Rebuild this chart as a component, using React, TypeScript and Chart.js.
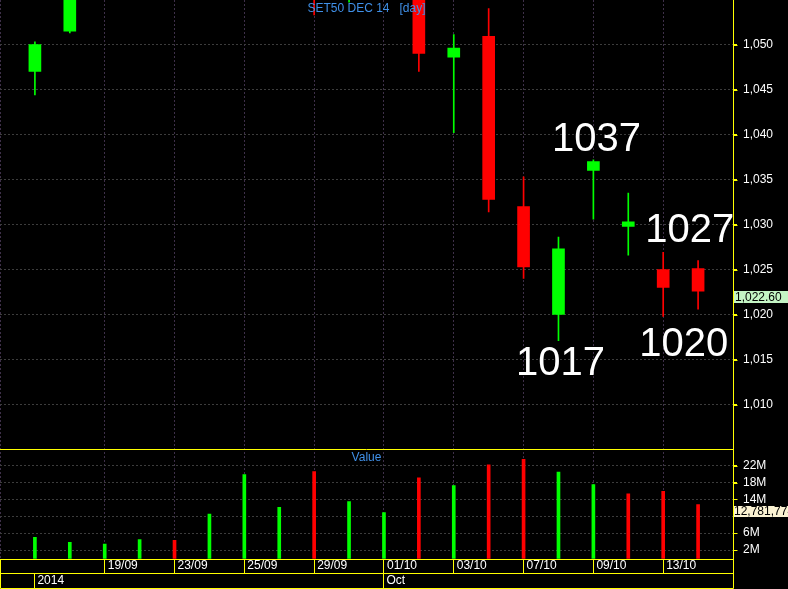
import React, { useEffect, useRef } from 'react';
import { Chart, registerables } from 'chart.js';

Chart.register(...registerables);

// ---- data -------------------------------------------------------------
const DATES = ['17/09', '18/09', '19/09', '22/09', '23/09', '24/09', '25/09', '26/09', '29/09', '30/09',
  '01/10', '02/10', '03/10', '06/10', '07/10', '08/10', '09/10', '10/10', '13/10', '14/10'];
const OPEN = [1047.0, 1051.5, 1057.5, 1062.0, 1064.0, 1061.5, 1067.0, 1071.0, 1073.0, 1059.5,
  1062.0, 1063.5, 1048.6, 1050.9, 1032.0, 1020.0, 1036.0, 1029.8, 1025.0, 1025.1];
const HIGH = [1050.3, 1058.5, 1063.5, 1066.0, 1065.0, 1068.0, 1074.5, 1075.0, 1074.0, 1064.0,
  1065.5, 1064.5, 1051.1, 1054.0, 1035.3, 1028.6, 1037.2, 1033.5, 1026.9, 1026.0];
const LOW = [1044.4, 1051.3, 1056.0, 1060.5, 1059.5, 1060.0, 1065.5, 1069.0, 1053.3, 1054.7,
  1058.5, 1047.0, 1040.2, 1031.4, 1024.0, 1017.1, 1030.6, 1026.6, 1019.8, 1020.6];
const CLOSE = [1050.0, 1057.0, 1062.0, 1064.5, 1061.0, 1066.5, 1072.0, 1073.5, 1059.0, 1062.5,
  1064.0, 1049.0, 1049.6, 1032.8, 1025.3, 1027.3, 1037.0, 1030.3, 1023.0, 1022.6];
const VOLUME = [5.0e6, 3.8e6, 3.4e6, 4.5e6, 4.3e6, 10.5e6, 19.9e6, 12.1e6, 20.6e6, 13.5e6,
  10.9e6, 19.1e6, 17.3e6, 22.2e6, 23.5e6, 20.5e6, 17.5e6, 15.3e6, 15.9e6, 12781774];

const PRICE_TICKS = [1010, 1015, 1020, 1025, 1030, 1035, 1040, 1045, 1050];
const VOLUME_TICKS = [2e6, 6e6, 10e6, 14e6, 18e6, 22e6];
const DATE_TICKS = [2, 4, 6, 8, 10, 12, 14, 16, 18];
const PERIOD_TICKS = [0, 10];
const PERIOD_LABELS = ['2014', 'Oct'];

const TITLE = 'SET50 DEC 14   [day]';
const VOLUME_TITLE = 'Value';

// annotation text with its anchor (candle index, price) = centre / baseline of text
const MARK_TEXT = ['1037', '1027', '1017', '1020'];
const MARK_INDEX = [16.09, 18.76, 15.06, 18.59];
const MARK_PRICE = [1038.17, 1028.09, 1013.28, 1015.42];

// ---- style ------------------------------------------------------------
const UP = '#00ff00';
const DOWN = '#ff0000';
const YELLOW = '#ffff00';
const HGRID = '#3c3c3c';
const VGRID = '#3e3049';
const TEXT = '#ffffff';
const BLUE = '#4090e8';
const FAMILY = "'Liberation Sans', Arial, sans-serif";

const candleColors = OPEN.map((o, i) => (CLOSE[i] >= o ? UP : DOWN));
const volumeColors = CLOSE.map((c, i) =>
  i === 0 ? candleColors[0] : c >= CLOSE[i - 1] ? UP : DOWN);

const overlayPlugin = {
  id: 'overlay',
  afterDraw(chart: any) {
    const { ctx, chartArea: a, scales } = chart;
    const x = scales.x;
    const y = scales.y;
    const yv = scales.yv;
    const H = chart.height;
    const axisX = Math.floor(a.right) + 0.5;
    ctx.save();
    ctx.setLineDash([]);
    ctx.strokeStyle = YELLOW;
    ctx.lineWidth = 1;
    // separator between panes
    const sep = Math.floor(y.bottom) + 0.5;
    ctx.beginPath();
    ctx.moveTo(a.left, sep);
    ctx.lineTo(a.right, sep);
    ctx.stroke();
    // right axis line + outline of date rows
    ctx.beginPath();
    ctx.moveTo(axisX, 0);
    ctx.lineTo(axisX, H - 0.5);
    ctx.lineTo(0.5, H - 0.5);
    ctx.lineTo(0.5, a.bottom);
    ctx.stroke();
    // axis tick marks
    ctx.beginPath();
    [y, yv].forEach((s: any) => {
      s.ticks.forEach((t: any) => {
        const p = Math.round(s.getPixelForValue(t.value)) + 0.5;
        ctx.moveTo(axisX, p);
        ctx.lineTo(axisX + 4, p);
      });
    });
    ctx.stroke();

    // titles
    const cx = (a.left + a.right) / 2;
    ctx.font = `12px ${FAMILY}`;
    ctx.fillStyle = BLUE;
    ctx.textAlign = 'center';
    ctx.textBaseline = 'alphabetic';
    ctx.fillText(TITLE, cx, 12);
    ctx.fillText(VOLUME_TITLE, cx, Math.floor(y.bottom) + 11.5);

    // big annotations
    ctx.font = `40px ${FAMILY}`;
    ctx.fillStyle = '#ffffff';
    MARK_TEXT.forEach((t, i) => {
      ctx.fillText(t, x.getPixelForValue(MARK_INDEX[i]), y.getPixelForValue(MARK_PRICE[i]));
    });

    // last price box
    ctx.font = `12px ${FAMILY}`;
    ctx.textAlign = 'left';
    ctx.textBaseline = 'middle';
    const last = CLOSE.length - 1;
    const py = Math.round(y.getPixelForValue(CLOSE[last]));
    ctx.fillStyle = '#c4f4c4';
    ctx.fillRect(a.right + 1, py, chart.width - a.right, 12);
    ctx.fillStyle = '#000000';
    ctx.fillText(CLOSE[last].toLocaleString('en-US', { minimumFractionDigits: 2, maximumFractionDigits: 2 }), a.right + 2, py + 6.5);

    // last volume box
    const pv = Math.round(yv.getPixelForValue(VOLUME[last])) + 1;
    ctx.fillStyle = '#fbf2d2';
    ctx.fillRect(a.right + 1, pv, chart.width - a.right, 11);
    ctx.fillStyle = '#000000';
    ctx.fillText(VOLUME[last].toLocaleString('en-US'), a.right + 1, pv + 6);
    ctx.restore();
  },
};

const font = { family: FAMILY, size: 12 };

export default function App() {
  const ref = useRef<HTMLCanvasElement | null>(null);

  useEffect(() => {
    if (!ref.current) return;
    const idx = DATES.map((_, i) => i);
    const chart = new Chart(ref.current, {
      type: 'bar',
      data: {
        datasets: [
          {
            label: 'body',
            data: idx.map((i) => ({ x: i, y: [OPEN[i], CLOSE[i]] })) as any,
            backgroundColor: candleColors,
            barThickness: 12,
            grouped: false,
            borderWidth: 0,
            xAxisID: 'x',
            yAxisID: 'y',
          },
          {
            label: 'wick',
            data: idx.map((i) => ({ x: i, y: [LOW[i], HIGH[i]] })) as any,
            backgroundColor: candleColors,
            barThickness: 1,
            grouped: false,
            borderWidth: 0,
            xAxisID: 'x',
            yAxisID: 'y',
          },
          {
            label: 'Value',
            data: idx.map((i) => ({ x: i, y: VOLUME[i] })) as any,
            backgroundColor: volumeColors,
            barThickness: 3,
            grouped: false,
            borderWidth: 0,
            xAxisID: 'x',
            yAxisID: 'yv',
          },
        ],
      },
      options: {
        responsive: false,
        animation: false,
        devicePixelRatio: 1,
        layout: { padding: 0, autoPadding: false } as any,
        plugins: {
          legend: { display: false },
          tooltip: { enabled: false },
          title: { display: false },
        },
        scales: {
          x: {
            type: 'linear',
            position: 'bottom',
            min: -1,
            max: 20,
            offset: false,
            afterBuildTicks: (s: any) => {
              s.ticks = [-1, ...DATE_TICKS, 20].map((v) => ({ value: v }));
            },
            afterFit: (s: any) => {
              s.height = 14;
              s.paddingLeft = 0;
              s.paddingRight = 0;
            },
            grid: { color: VGRID, offset: false, tickLength: 14, tickColor: YELLOW, tickWidth: 1 },
            border: { color: YELLOW, width: 1, dash: [2, 2] },
            ticks: {
              autoSkip: false,
              maxRotation: 0,
              minRotation: 0,
              align: 'start',
              labelOffset: 3,
              padding: -14.5,
              color: TEXT,
              font,
              callback: (v: any) => DATES[v as number] ?? '',
            },
          },
          x2: {
            type: 'linear',
            position: 'bottom',
            min: -1,
            max: 20,
            offset: false,
            afterBuildTicks: (s: any) => {
              s.ticks = [-1, ...PERIOD_TICKS, 20].map((v) => ({ value: v }));
            },
            afterFit: (s: any) => {
              s.height = 16;
              s.paddingLeft = 0;
              s.paddingRight = 0;
            },
            grid: { drawOnChartArea: false, color: YELLOW, offset: false, tickLength: 15, tickColor: YELLOW, tickWidth: 1 },
            border: { color: YELLOW, width: 1 },
            ticks: {
              autoSkip: false,
              maxRotation: 0,
              minRotation: 0,
              align: 'start',
              labelOffset: 2.5,
              padding: -14.5,
              color: TEXT,
              font,
              callback: (v: any) => {
                const k = PERIOD_TICKS.indexOf(v as number);
                return k >= 0 ? PERIOD_LABELS[k] : '';
              },
            },
          },
          y: {
            type: 'linear',
            position: 'right',
            stack: 'panes',
            stackWeight: 449.5,
            min: 1005,
            max: 1054.95,
            afterBuildTicks: (s: any) => {
              s.ticks = PRICE_TICKS.map((v) => ({ value: v }));
            },
            afterFit: (s: any) => {
              s.width = 55;
              s.paddingTop = 0;
              s.paddingBottom = 0;
            },
            grid: { color: HGRID, tickLength: 4, tickColor: YELLOW, tickWidth: 1 },
            border: { color: YELLOW, width: 1, dash: [2, 2] },
            ticks: {
              autoSkip: false,
              padding: 6,
              color: TEXT,
              font,
              callback: (v: any) => Number(v).toLocaleString('en-US'),
            },
          },
          yv: {
            type: 'linear',
            position: 'right',
            stack: 'panes',
            stackWeight: 109.5,
            min: -0.135e6,
            max: 25.845e6,
            afterBuildTicks: (s: any) => {
              s.ticks = VOLUME_TICKS.map((v) => ({ value: v }));
            },
            afterFit: (s: any) => {
              s.width = 55;
              s.paddingTop = 0;
              s.paddingBottom = 0;
            },
            grid: { color: HGRID, tickLength: 4, tickColor: YELLOW, tickWidth: 1 },
            border: { color: YELLOW, width: 1, dash: [2, 2] },
            ticks: {
              autoSkip: false,
              padding: 6,
              color: TEXT,
              font,
              callback: (v: any) => (v === 10e6 ? '' : `${Number(v) / 1e6}M`),
            },
          },
        } as any,
      },
      plugins: [overlayPlugin],
    });
    return () => chart.destroy();
  }, []);

  return (
    <div style={{ position: 'fixed', left: 0, top: 0, width: 788, height: 589, background: '#000' }}>
      <canvas ref={ref} width={788} height={589} style={{ display: 'block' }} />
    </div>
  );
}
